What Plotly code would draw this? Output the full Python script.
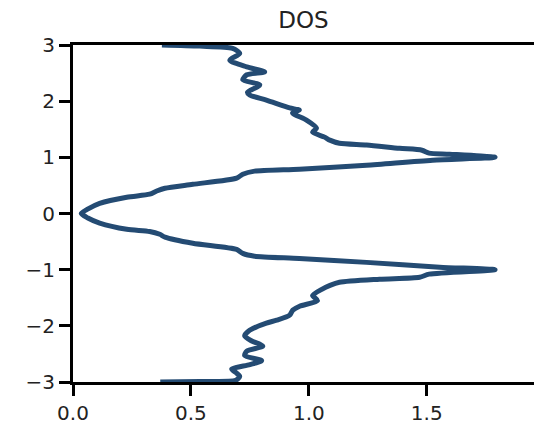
import plotly.graph_objects as go

# Energy (y) and DOS (x) values
energy = [-3.0, -2.99, -2.97, -2.9, -2.83, -2.77, -2.69, -2.62, -2.53, -2.45,
          -2.36, -2.27, -2.18, -2.08, -1.95, -1.9, -1.81, -1.72, -1.65, -1.55,
          -1.46, -1.35, -1.28, -1.225, -1.17, -1.135, -1.08, -1.0, -0.955, -0.87,
          -0.80, -0.76, -0.71, -0.64, -0.53, -0.42, -0.37, -0.32, -0.28, -0.17,
          -0.08, 0.0,
          0.077, 0.18, 0.29, 0.344, 0.40, 0.45, 0.52, 0.63, 0.70, 0.754,
          0.79, 0.86, 0.95, 1.0, 1.056, 1.075, 1.127, 1.16, 1.218, 1.25,
          1.306, 1.36, 1.45, 1.52, 1.663, 1.79, 1.84, 1.88, 2.02, 2.11,
          2.16, 2.29, 2.38, 2.47, 2.52, 2.61, 2.73, 2.85, 2.94, 2.98, 3.0]
dos = [0.37, 0.54, 0.69, 0.707, 0.69, 0.673, 0.75, 0.80, 0.728, 0.737,
       0.805, 0.758, 0.728, 0.749, 0.82, 0.864, 0.919, 0.932, 0.961, 1.037,
       1.016, 1.055, 1.09, 1.13, 1.30, 1.47, 1.51, 1.79, 1.555, 1.245,
       0.96, 0.77, 0.72, 0.694, 0.508, 0.39, 0.368, 0.325, 0.228, 0.113,
       0.063, 0.035,
       0.062, 0.113, 0.228, 0.325, 0.355, 0.39, 0.508, 0.694, 0.72, 0.77,
       0.96, 1.245, 1.525, 1.79, 1.597, 1.51, 1.48, 1.385, 1.245, 1.13,
       1.089, 1.067, 1.016, 1.033, 0.99, 0.931, 0.96, 0.919, 0.82, 0.749,
       0.74, 0.792, 0.72, 0.737, 0.813, 0.737, 0.665, 0.707, 0.677, 0.537, 0.377]

x_tickvals = [0.0, 0.5, 1.0, 1.5]
x_ticktext = ["0.0", "0.5", "1.0", "1.5"]
y_tickvals = [-3, -2, -1, 0, 1, 2, 3]
y_ticktext = ["\u22123", "\u22122", "\u22121", "0", "1", "2", "3"]

fig = go.Figure()
fig.add_trace(go.Scatter(
    x=dos, y=energy, mode="lines",
    line=dict(color="#244b73", width=5, shape="spline", smoothing=0.7),
    showlegend=False, hoverinfo="skip"))

font = "DejaVu Sans, Arial, sans-serif"
fig.update_layout(
    width=534, height=427,
    margin=dict(l=73, r=0, t=45, b=45),
    paper_bgcolor="white", plot_bgcolor="white",
    font=dict(family=font, size=20, color="#222222"),
    title=dict(text="DOS", x=0.5, xref="paper", xanchor="center",
               y=0.935, yref="container", yanchor="bottom",
               font=dict(family=font, size=23, color="#222222")),
)
fig.update_xaxes(
    range=[0, 1.955], tickvals=x_tickvals, ticktext=x_ticktext,
    showgrid=False, zeroline=False,
    showline=True, linecolor="black", linewidth=3, mirror=True,
    ticks="outside", ticklen=11, tickwidth=2.5, tickcolor="black",
    tickfont=dict(family=font, size=20, color="#222222"))
fig.update_yaxes(
    range=[-3, 3], tickvals=y_tickvals, ticktext=y_ticktext,
    showgrid=False, zeroline=False,
    showline=True, linecolor="black", linewidth=3, mirror=False,
    ticks="outside", ticklen=11, tickwidth=2.5, tickcolor="black",
    tickfont=dict(family=font, size=20, color="#222222"))

fig.write_html("out.html")
